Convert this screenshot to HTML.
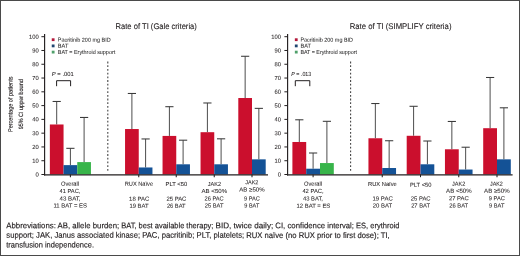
<!DOCTYPE html>
<html lang="en"><head><meta charset="utf-8"><title>Rate of TI</title>
<style>
html,body{margin:0;padding:0;background:#fff;}
body{width:520px;height:256px;overflow:hidden;position:relative;}
svg{position:absolute;left:0;top:0;display:block;will-change:transform;}
text{font-family:"Liberation Sans",Arial,sans-serif;fill:#231f20;stroke:#231f20;stroke-width:0.06px;}
</style></head><body>
<svg width="520" height="256" viewBox="0 0 520 256">
<rect x="0" y="0" width="520" height="256" fill="#fff"/>
<path d="M56.70 124.48V101.47" stroke="#4d4d4d" stroke-width="1" fill="none"/>
<path d="M52.60 101.47h8.2" stroke="#3a3a3a" stroke-width="1.05" fill="none"/>
<path d="M70.40 165.13V148.32" stroke="#4d4d4d" stroke-width="1" fill="none"/>
<path d="M66.30 148.32h8.2" stroke="#3a3a3a" stroke-width="1.05" fill="none"/>
<path d="M84.10 162.10V117.45" stroke="#4d4d4d" stroke-width="1" fill="none"/>
<path d="M80.00 117.45h8.2" stroke="#3a3a3a" stroke-width="1.05" fill="none"/>
<rect x="49.85" y="124.48" width="13.70" height="50.02" fill="#cb0f2d"/>
<rect x="63.55" y="165.13" width="13.70" height="9.37" fill="#145296"/>
<rect x="77.25" y="162.10" width="13.70" height="12.40" fill="#38b44a"/>
<path d="M131.90 129.03V93.47" stroke="#4d4d4d" stroke-width="1" fill="none"/>
<path d="M127.80 93.47h8.2" stroke="#3a3a3a" stroke-width="1.05" fill="none"/>
<path d="M145.60 167.47V138.95" stroke="#4d4d4d" stroke-width="1" fill="none"/>
<path d="M141.50 138.95h8.2" stroke="#3a3a3a" stroke-width="1.05" fill="none"/>
<rect x="125.05" y="129.03" width="13.70" height="45.47" fill="#cb0f2d"/>
<rect x="138.75" y="167.47" width="13.70" height="7.03" fill="#145296"/>
<path d="M169.40 135.92V106.70" stroke="#4d4d4d" stroke-width="1" fill="none"/>
<path d="M165.30 106.70h8.2" stroke="#3a3a3a" stroke-width="1.05" fill="none"/>
<path d="M183.10 164.30V140.19" stroke="#4d4d4d" stroke-width="1" fill="none"/>
<path d="M179.00 140.19h8.2" stroke="#3a3a3a" stroke-width="1.05" fill="none"/>
<rect x="162.55" y="135.92" width="13.70" height="38.58" fill="#cb0f2d"/>
<rect x="176.25" y="164.30" width="13.70" height="10.20" fill="#145296"/>
<path d="M207.40 132.20V102.98" stroke="#4d4d4d" stroke-width="1" fill="none"/>
<path d="M203.30 102.98h8.2" stroke="#3a3a3a" stroke-width="1.05" fill="none"/>
<path d="M221.10 164.30V138.81" stroke="#4d4d4d" stroke-width="1" fill="none"/>
<path d="M217.00 138.81h8.2" stroke="#3a3a3a" stroke-width="1.05" fill="none"/>
<rect x="200.55" y="132.20" width="13.70" height="42.30" fill="#cb0f2d"/>
<rect x="214.25" y="164.30" width="13.70" height="10.20" fill="#145296"/>
<path d="M245.15 98.02V56.27" stroke="#4d4d4d" stroke-width="1" fill="none"/>
<path d="M241.05 56.27h8.2" stroke="#3a3a3a" stroke-width="1.05" fill="none"/>
<path d="M258.85 159.34V108.36" stroke="#4d4d4d" stroke-width="1" fill="none"/>
<path d="M254.75 108.36h8.2" stroke="#3a3a3a" stroke-width="1.05" fill="none"/>
<rect x="238.30" y="98.02" width="13.70" height="76.48" fill="#cb0f2d"/>
<rect x="252.00" y="159.34" width="13.70" height="15.16" fill="#145296"/>
<path d="M44.6 33.9V175.4" stroke="#231f20" stroke-width="1.15" fill="none"/>
<path d="M44.050000000000004 174.8H268" stroke="#231f20" stroke-width="1.2" fill="none"/>
<path d="M41.4 174.50H44.6" stroke="#231f20" stroke-width="1" fill="none"/>
<text transform="matrix(1 0.0007 0 1 0 -0.0260)" x="38.8" y="176.5" font-size="5.9" text-anchor="end" textLength="3.3" lengthAdjust="spacingAndGlyphs" >0</text>
<path d="M41.4 160.72H44.6" stroke="#231f20" stroke-width="1" fill="none"/>
<text transform="matrix(1 0.0007 0 1 0 -0.0249)" x="38.8" y="162.72" font-size="5.9" text-anchor="end" textLength="6.5" lengthAdjust="spacingAndGlyphs" >10</text>
<path d="M41.4 146.94H44.6" stroke="#231f20" stroke-width="1" fill="none"/>
<text transform="matrix(1 0.0007 0 1 0 -0.0249)" x="38.8" y="148.94" font-size="5.9" text-anchor="end" textLength="6.5" lengthAdjust="spacingAndGlyphs" >20</text>
<path d="M41.4 133.16H44.6" stroke="#231f20" stroke-width="1" fill="none"/>
<text transform="matrix(1 0.0007 0 1 0 -0.0249)" x="38.8" y="135.16" font-size="5.9" text-anchor="end" textLength="6.5" lengthAdjust="spacingAndGlyphs" >30</text>
<path d="M41.4 119.38H44.6" stroke="#231f20" stroke-width="1" fill="none"/>
<text transform="matrix(1 0.0007 0 1 0 -0.0249)" x="38.8" y="121.38" font-size="5.9" text-anchor="end" textLength="6.5" lengthAdjust="spacingAndGlyphs" >40</text>
<path d="M41.4 105.60H44.6" stroke="#231f20" stroke-width="1" fill="none"/>
<text transform="matrix(1 0.0007 0 1 0 -0.0249)" x="38.8" y="107.6" font-size="5.9" text-anchor="end" textLength="6.5" lengthAdjust="spacingAndGlyphs" >50</text>
<path d="M41.4 91.82H44.6" stroke="#231f20" stroke-width="1" fill="none"/>
<text transform="matrix(1 0.0007 0 1 0 -0.0249)" x="38.8" y="93.82" font-size="5.9" text-anchor="end" textLength="6.5" lengthAdjust="spacingAndGlyphs" >60</text>
<path d="M41.4 78.04H44.6" stroke="#231f20" stroke-width="1" fill="none"/>
<text transform="matrix(1 0.0007 0 1 0 -0.0249)" x="38.8" y="80.04" font-size="5.9" text-anchor="end" textLength="6.5" lengthAdjust="spacingAndGlyphs" >70</text>
<path d="M41.4 64.26H44.6" stroke="#231f20" stroke-width="1" fill="none"/>
<text transform="matrix(1 0.0007 0 1 0 -0.0249)" x="38.8" y="66.26" font-size="5.9" text-anchor="end" textLength="6.5" lengthAdjust="spacingAndGlyphs" >80</text>
<path d="M41.4 50.48H44.6" stroke="#231f20" stroke-width="1" fill="none"/>
<text transform="matrix(1 0.0007 0 1 0 -0.0249)" x="38.8" y="52.48" font-size="5.9" text-anchor="end" textLength="6.5" lengthAdjust="spacingAndGlyphs" >90</text>
<path d="M41.4 36.70H44.6" stroke="#231f20" stroke-width="1" fill="none"/>
<text transform="matrix(1 0.0007 0 1 0 -0.0237)" x="38.8" y="38.7" font-size="5.9" text-anchor="end" textLength="9.8" lengthAdjust="spacingAndGlyphs" >100</text>
<path d="M70.40 174.5V177.2" stroke="#231f20" stroke-width="1.05" fill="none"/>
<path d="M138.75 174.5V177.2" stroke="#231f20" stroke-width="1.05" fill="none"/>
<path d="M176.25 174.5V177.2" stroke="#231f20" stroke-width="1.05" fill="none"/>
<path d="M214.25 174.5V177.2" stroke="#231f20" stroke-width="1.05" fill="none"/>
<path d="M252.00 174.5V177.2" stroke="#231f20" stroke-width="1.05" fill="none"/>
<path d="M107.8 61.6V172.6" stroke="#444" stroke-width="1.1" stroke-dasharray="1.8 1.9" fill="none"/>
<rect x="51.75" y="38.30" width="2.8" height="2.8" fill="#b3173a"/>
<text transform="matrix(1 0.0007 0 1 0 -0.0590)" x="57.8" y="41.65" font-size="5.7" text-anchor="start" textLength="52.9" lengthAdjust="spacingAndGlyphs" style="fill:#2b2b2b;stroke-width:0.04px">Pacritinib 200 mg BID</text>
<rect x="51.75" y="44.50" width="2.8" height="2.8" fill="#1f4570"/>
<text transform="matrix(1 0.0007 0 1 0 -0.0442)" x="57.8" y="47.85" font-size="5.7" text-anchor="start" textLength="10.6" lengthAdjust="spacingAndGlyphs" style="fill:#2b2b2b;stroke-width:0.04px">BAT</text>
<rect x="51.75" y="50.70" width="2.8" height="2.8" fill="#4fa06a"/>
<text transform="matrix(1 0.0007 0 1 0 -0.0605)" x="57.8" y="54.05" font-size="5.7" text-anchor="start" textLength="57.4" lengthAdjust="spacingAndGlyphs" style="fill:#2b2b2b;stroke-width:0.04px">BAT = Erythroid support</text>
<text transform="matrix(1 0.0007 0 1 0 -0.0440)" x="62.8" y="76.1" font-size="5.9" text-anchor="middle" textLength="21.9" lengthAdjust="spacingAndGlyphs"><tspan font-style="italic">P</tspan> = .001</text>
<path d="M56.6 86.2V80.7H70.6V86.2" stroke="#231f20" stroke-width="1" fill="none"/>
<text transform="matrix(1 0.0007 0 1 0 -0.1093)" x="156.2" y="29.0" font-size="8.2" text-anchor="middle" textLength="81.3" lengthAdjust="spacingAndGlyphs" style="stroke-width:0.1px">Rate of TI (Gale criteria)</text>
<text transform="matrix(1 0.0007 0 1 0 -0.0490)" x="70.05" y="185.75" font-size="5.9" text-anchor="middle" textLength="18.1" lengthAdjust="spacingAndGlyphs" >Overall</text>
<text transform="matrix(1 0.0007 0 1 0 -0.0490)" x="69.95" y="193.1" font-size="5.9" text-anchor="middle" textLength="20.9" lengthAdjust="spacingAndGlyphs" >41 PAC,</text>
<text transform="matrix(1 0.0007 0 1 0 -0.0490)" x="70.05" y="200.4" font-size="5.9" text-anchor="middle" textLength="20.9" lengthAdjust="spacingAndGlyphs" >43 BAT,</text>
<text transform="matrix(1 0.0007 0 1 0 -0.0492)" x="70.25" y="207.6" font-size="5.9" text-anchor="middle" textLength="33.5" lengthAdjust="spacingAndGlyphs" >11 BAT = ES</text>
<text transform="matrix(1 0.0007 0 1 0 -0.0972)" x="138.9" y="185.7" font-size="5.9" text-anchor="middle" textLength="28.4" lengthAdjust="spacingAndGlyphs" >RUX Naïve</text>
<text transform="matrix(1 0.0007 0 1 0 -0.0974)" x="139.15" y="200.7" font-size="5.9" text-anchor="middle" textLength="20.1" lengthAdjust="spacingAndGlyphs" >18 PAC</text>
<text transform="matrix(1 0.0007 0 1 0 -0.0973)" x="139.0" y="207.7" font-size="5.9" text-anchor="middle" textLength="19.2" lengthAdjust="spacingAndGlyphs" >19 BAT</text>
<text transform="matrix(1 0.0007 0 1 0 -0.1235)" x="176.4" y="186.1" font-size="5.9" text-anchor="middle" textLength="21.6" lengthAdjust="spacingAndGlyphs" >PLT &lt;50</text>
<text transform="matrix(1 0.0007 0 1 0 -0.1235)" x="176.4" y="200.7" font-size="5.9" text-anchor="middle" textLength="20.0" lengthAdjust="spacingAndGlyphs" >25 PAC</text>
<text transform="matrix(1 0.0007 0 1 0 -0.1234)" x="176.25" y="207.7" font-size="5.9" text-anchor="middle" textLength="18.7" lengthAdjust="spacingAndGlyphs" >26 BAT</text>
<text transform="matrix(1 0.0007 0 1 0 -0.1501)" x="214.4" y="185.9" font-size="5.9" text-anchor="middle" textLength="13.3" lengthAdjust="spacingAndGlyphs" >JAK2</text>
<text transform="matrix(1 0.0007 0 1 0 -0.1500)" x="214.3" y="193.1" font-size="5.9" text-anchor="middle" textLength="25.6" lengthAdjust="spacingAndGlyphs" >AB &lt;50%</text>
<text transform="matrix(1 0.0007 0 1 0 -0.1499)" x="214.1" y="200.4" font-size="5.9" text-anchor="middle" textLength="19.2" lengthAdjust="spacingAndGlyphs" >26 PAC</text>
<text transform="matrix(1 0.0007 0 1 0 -0.1499)" x="214.1" y="207.6" font-size="5.9" text-anchor="middle" textLength="18.7" lengthAdjust="spacingAndGlyphs" >25 BAT</text>
<text transform="matrix(1 0.0007 0 1 0 -0.1763)" x="251.8" y="184.3" font-size="5.9" text-anchor="middle" textLength="13.2" lengthAdjust="spacingAndGlyphs" >JAK2</text>
<text transform="matrix(1 0.0007 0 1 0 -0.1764)" x="251.95" y="191.5" font-size="5.9" text-anchor="middle" textLength="25.3" lengthAdjust="spacingAndGlyphs" >AB ≥50%</text>
<text transform="matrix(1 0.0007 0 1 0 -0.1764)" x="251.95" y="200.4" font-size="5.9" text-anchor="middle" textLength="15.9" lengthAdjust="spacingAndGlyphs" >9 PAC</text>
<text transform="matrix(1 0.0007 0 1 0 -0.1763)" x="251.8" y="207.6" font-size="5.9" text-anchor="middle" textLength="15.0" lengthAdjust="spacingAndGlyphs" >9 BAT</text>
<path d="M299.30 141.98V119.79" stroke="#4d4d4d" stroke-width="1" fill="none"/>
<path d="M295.20 119.79h8.2" stroke="#3a3a3a" stroke-width="1.05" fill="none"/>
<path d="M313.10 168.71V153.00" stroke="#4d4d4d" stroke-width="1" fill="none"/>
<path d="M309.00 153.00h8.2" stroke="#3a3a3a" stroke-width="1.05" fill="none"/>
<path d="M326.90 163.06V121.31" stroke="#4d4d4d" stroke-width="1" fill="none"/>
<path d="M322.80 121.31h8.2" stroke="#3a3a3a" stroke-width="1.05" fill="none"/>
<rect x="292.40" y="141.98" width="13.80" height="32.52" fill="#cb0f2d"/>
<rect x="306.20" y="168.71" width="13.80" height="5.79" fill="#145296"/>
<rect x="320.00" y="163.06" width="13.80" height="11.44" fill="#38b44a"/>
<path d="M375.35 138.26V103.53" stroke="#4d4d4d" stroke-width="1" fill="none"/>
<path d="M371.25 103.53h8.2" stroke="#3a3a3a" stroke-width="1.05" fill="none"/>
<path d="M389.15 168.02V140.74" stroke="#4d4d4d" stroke-width="1" fill="none"/>
<path d="M385.05 140.74h8.2" stroke="#3a3a3a" stroke-width="1.05" fill="none"/>
<rect x="368.45" y="138.26" width="13.80" height="36.24" fill="#cb0f2d"/>
<rect x="382.25" y="168.02" width="13.80" height="6.48" fill="#145296"/>
<path d="M413.60 135.78V106.29" stroke="#4d4d4d" stroke-width="1" fill="none"/>
<path d="M409.50 106.29h8.2" stroke="#3a3a3a" stroke-width="1.05" fill="none"/>
<path d="M427.40 164.30V141.01" stroke="#4d4d4d" stroke-width="1" fill="none"/>
<path d="M423.30 141.01h8.2" stroke="#3a3a3a" stroke-width="1.05" fill="none"/>
<rect x="406.70" y="135.78" width="13.80" height="38.72" fill="#cb0f2d"/>
<rect x="420.50" y="164.30" width="13.80" height="10.20" fill="#145296"/>
<path d="M451.85 149.28V121.45" stroke="#4d4d4d" stroke-width="1" fill="none"/>
<path d="M447.75 121.45h8.2" stroke="#3a3a3a" stroke-width="1.05" fill="none"/>
<path d="M465.65 169.54V147.22" stroke="#4d4d4d" stroke-width="1" fill="none"/>
<path d="M461.55 147.22h8.2" stroke="#3a3a3a" stroke-width="1.05" fill="none"/>
<rect x="444.95" y="149.28" width="13.80" height="25.22" fill="#cb0f2d"/>
<rect x="458.75" y="169.54" width="13.80" height="4.96" fill="#145296"/>
<path d="M490.10 128.20V77.49" stroke="#4d4d4d" stroke-width="1" fill="none"/>
<path d="M486.00 77.49h8.2" stroke="#3a3a3a" stroke-width="1.05" fill="none"/>
<path d="M503.90 159.34V107.80" stroke="#4d4d4d" stroke-width="1" fill="none"/>
<path d="M499.80 107.80h8.2" stroke="#3a3a3a" stroke-width="1.05" fill="none"/>
<rect x="483.20" y="128.20" width="13.80" height="46.30" fill="#cb0f2d"/>
<rect x="497.00" y="159.34" width="13.80" height="15.16" fill="#145296"/>
<path d="M287.6 33.9V175.4" stroke="#231f20" stroke-width="1.15" fill="none"/>
<path d="M287.05 174.8H512.6" stroke="#231f20" stroke-width="1.2" fill="none"/>
<path d="M284.40000000000003 174.50H287.6" stroke="#231f20" stroke-width="1" fill="none"/>
<text transform="matrix(1 0.0007 0 1 0 -0.1955)" x="281.0" y="176.5" font-size="5.9" text-anchor="end" textLength="3.3" lengthAdjust="spacingAndGlyphs" >0</text>
<path d="M284.40000000000003 160.72H287.6" stroke="#231f20" stroke-width="1" fill="none"/>
<text transform="matrix(1 0.0007 0 1 0 -0.1944)" x="281.0" y="162.72" font-size="5.9" text-anchor="end" textLength="6.5" lengthAdjust="spacingAndGlyphs" >10</text>
<path d="M284.40000000000003 146.94H287.6" stroke="#231f20" stroke-width="1" fill="none"/>
<text transform="matrix(1 0.0007 0 1 0 -0.1944)" x="281.0" y="148.94" font-size="5.9" text-anchor="end" textLength="6.5" lengthAdjust="spacingAndGlyphs" >20</text>
<path d="M284.40000000000003 133.16H287.6" stroke="#231f20" stroke-width="1" fill="none"/>
<text transform="matrix(1 0.0007 0 1 0 -0.1944)" x="281.0" y="135.16" font-size="5.9" text-anchor="end" textLength="6.5" lengthAdjust="spacingAndGlyphs" >30</text>
<path d="M284.40000000000003 119.38H287.6" stroke="#231f20" stroke-width="1" fill="none"/>
<text transform="matrix(1 0.0007 0 1 0 -0.1944)" x="281.0" y="121.38" font-size="5.9" text-anchor="end" textLength="6.5" lengthAdjust="spacingAndGlyphs" >40</text>
<path d="M284.40000000000003 105.60H287.6" stroke="#231f20" stroke-width="1" fill="none"/>
<text transform="matrix(1 0.0007 0 1 0 -0.1944)" x="281.0" y="107.6" font-size="5.9" text-anchor="end" textLength="6.5" lengthAdjust="spacingAndGlyphs" >50</text>
<path d="M284.40000000000003 91.82H287.6" stroke="#231f20" stroke-width="1" fill="none"/>
<text transform="matrix(1 0.0007 0 1 0 -0.1944)" x="281.0" y="93.82" font-size="5.9" text-anchor="end" textLength="6.5" lengthAdjust="spacingAndGlyphs" >60</text>
<path d="M284.40000000000003 78.04H287.6" stroke="#231f20" stroke-width="1" fill="none"/>
<text transform="matrix(1 0.0007 0 1 0 -0.1944)" x="281.0" y="80.04" font-size="5.9" text-anchor="end" textLength="6.5" lengthAdjust="spacingAndGlyphs" >70</text>
<path d="M284.40000000000003 64.26H287.6" stroke="#231f20" stroke-width="1" fill="none"/>
<text transform="matrix(1 0.0007 0 1 0 -0.1944)" x="281.0" y="66.26" font-size="5.9" text-anchor="end" textLength="6.5" lengthAdjust="spacingAndGlyphs" >80</text>
<path d="M284.40000000000003 50.48H287.6" stroke="#231f20" stroke-width="1" fill="none"/>
<text transform="matrix(1 0.0007 0 1 0 -0.1944)" x="281.0" y="52.48" font-size="5.9" text-anchor="end" textLength="6.5" lengthAdjust="spacingAndGlyphs" >90</text>
<path d="M284.40000000000003 36.70H287.6" stroke="#231f20" stroke-width="1" fill="none"/>
<text transform="matrix(1 0.0007 0 1 0 -0.1933)" x="281.0" y="38.7" font-size="5.9" text-anchor="end" textLength="9.8" lengthAdjust="spacingAndGlyphs" >100</text>
<path d="M313.10 174.5V177.2" stroke="#231f20" stroke-width="1.05" fill="none"/>
<path d="M382.25 174.5V177.2" stroke="#231f20" stroke-width="1.05" fill="none"/>
<path d="M420.50 174.5V177.2" stroke="#231f20" stroke-width="1.05" fill="none"/>
<path d="M458.75 174.5V177.2" stroke="#231f20" stroke-width="1.05" fill="none"/>
<path d="M497.00 174.5V177.2" stroke="#231f20" stroke-width="1.05" fill="none"/>
<path d="M350.6 61.6V172.6" stroke="#444" stroke-width="1.1" stroke-dasharray="1.8 1.9" fill="none"/>
<rect x="294.85" y="38.30" width="2.8" height="2.8" fill="#b3173a"/>
<text transform="matrix(1 0.0007 0 1 0 -0.2287)" x="300.4" y="41.65" font-size="5.7" text-anchor="start" textLength="52.6" lengthAdjust="spacingAndGlyphs" style="fill:#2b2b2b;stroke-width:0.04px">Pacritinib 200 mg BID</text>
<rect x="294.85" y="44.50" width="2.8" height="2.8" fill="#1f4570"/>
<text transform="matrix(1 0.0007 0 1 0 -0.2140)" x="300.4" y="47.85" font-size="5.7" text-anchor="start" textLength="10.5" lengthAdjust="spacingAndGlyphs" style="fill:#2b2b2b;stroke-width:0.04px">BAT</text>
<rect x="294.85" y="50.70" width="2.8" height="2.8" fill="#4fa06a"/>
<text transform="matrix(1 0.0007 0 1 0 -0.2301)" x="300.4" y="54.05" font-size="5.7" text-anchor="start" textLength="56.6" lengthAdjust="spacingAndGlyphs" style="fill:#2b2b2b;stroke-width:0.04px">BAT = Erythroid support</text>
<text transform="matrix(1 0.0007 0 1 0 -0.2109)" x="301.3" y="76.1" font-size="5.9" text-anchor="middle" textLength="20.0" lengthAdjust="spacingAndGlyphs"><tspan font-style="italic">P</tspan> = .013</text>
<path d="M295.3 86.2V80.7H309.8V86.2" stroke="#231f20" stroke-width="1" fill="none"/>
<text transform="matrix(1 0.0007 0 1 0 -0.2804)" x="400.6" y="29.0" font-size="8.2" text-anchor="middle" textLength="101.8" lengthAdjust="spacingAndGlyphs" style="stroke-width:0.1px">Rate of TI (SIMPLIFY criteria)</text>
<text transform="matrix(1 0.0007 0 1 0 -0.2191)" x="313" y="185.75" font-size="5.9" text-anchor="middle" textLength="18.0" lengthAdjust="spacingAndGlyphs" >Overall</text>
<text transform="matrix(1 0.0007 0 1 0 -0.2191)" x="313" y="193.1" font-size="5.9" text-anchor="middle" textLength="21.2" lengthAdjust="spacingAndGlyphs" >42 PAC,</text>
<text transform="matrix(1 0.0007 0 1 0 -0.2191)" x="313" y="200.4" font-size="5.9" text-anchor="middle" textLength="20.0" lengthAdjust="spacingAndGlyphs" >43 BAT,</text>
<text transform="matrix(1 0.0007 0 1 0 -0.2194)" x="313.4" y="207.8" font-size="5.9" text-anchor="middle" textLength="33.75" lengthAdjust="spacingAndGlyphs" >12 BAT = ES</text>
<text transform="matrix(1 0.0007 0 1 0 -0.2677)" x="382.4" y="185.9" font-size="5.9" text-anchor="middle" textLength="28.6" lengthAdjust="spacingAndGlyphs" >RUX Naïve</text>
<text transform="matrix(1 0.0007 0 1 0 -0.2679)" x="382.65" y="200.6" font-size="5.9" text-anchor="middle" textLength="20.3" lengthAdjust="spacingAndGlyphs" >19 PAC</text>
<text transform="matrix(1 0.0007 0 1 0 -0.2677)" x="382.5" y="207.6" font-size="5.9" text-anchor="middle" textLength="19.4" lengthAdjust="spacingAndGlyphs" >20 BAT</text>
<text transform="matrix(1 0.0007 0 1 0 -0.2945)" x="420.7" y="186.7" font-size="5.9" text-anchor="middle" textLength="21.4" lengthAdjust="spacingAndGlyphs" >PLT &lt;50</text>
<text transform="matrix(1 0.0007 0 1 0 -0.2945)" x="420.7" y="200.6" font-size="5.9" text-anchor="middle" textLength="19.8" lengthAdjust="spacingAndGlyphs" >25 PAC</text>
<text transform="matrix(1 0.0007 0 1 0 -0.2944)" x="420.6" y="207.6" font-size="5.9" text-anchor="middle" textLength="18.9" lengthAdjust="spacingAndGlyphs" >27 BAT</text>
<text transform="matrix(1 0.0007 0 1 0 -0.3211)" x="458.7" y="185.7" font-size="5.9" text-anchor="middle" textLength="13.3" lengthAdjust="spacingAndGlyphs" >JAK2</text>
<text transform="matrix(1 0.0007 0 1 0 -0.3212)" x="458.85" y="192.75" font-size="5.9" text-anchor="middle" textLength="25.5" lengthAdjust="spacingAndGlyphs" >AB &lt;50%</text>
<text transform="matrix(1 0.0007 0 1 0 -0.3212)" x="458.85" y="200.3" font-size="5.9" text-anchor="middle" textLength="19.9" lengthAdjust="spacingAndGlyphs" >27 PAC</text>
<text transform="matrix(1 0.0007 0 1 0 -0.3211)" x="458.7" y="207.6" font-size="5.9" text-anchor="middle" textLength="19.0" lengthAdjust="spacingAndGlyphs" >26 BAT</text>
<text transform="matrix(1 0.0007 0 1 0 -0.3475)" x="496.4" y="185.7" font-size="5.9" text-anchor="middle" textLength="12.8" lengthAdjust="spacingAndGlyphs" >JAK2</text>
<text transform="matrix(1 0.0007 0 1 0 -0.3478)" x="496.85" y="192.75" font-size="5.9" text-anchor="middle" textLength="25.5" lengthAdjust="spacingAndGlyphs" >AB ≥50%</text>
<text transform="matrix(1 0.0007 0 1 0 -0.3478)" x="496.85" y="200.3" font-size="5.9" text-anchor="middle" textLength="16.1" lengthAdjust="spacingAndGlyphs" >9 PAC</text>
<text transform="matrix(1 0.0007 0 1 0 -0.3477)" x="496.7" y="207.6" font-size="5.9" text-anchor="middle" textLength="15.4" lengthAdjust="spacingAndGlyphs" >9 BAT</text>
<text transform="translate(12.6 104.3) rotate(-90) matrix(1 0.0007 0 1 0 0)" font-size="6.2" style="stroke-width:0.14px" text-anchor="middle" textLength="55.5" lengthAdjust="spacingAndGlyphs">Percentage of patients</text>
<text transform="translate(22.9 104.3) rotate(-90) matrix(1 0.0007 0 1 0 0)" font-size="6.2" style="stroke-width:0.14px" text-anchor="middle" textLength="50" lengthAdjust="spacingAndGlyphs">95% CI upper bound</text>
<text transform="matrix(1 0.0007 0 1 0 -0.0439)" x="6.3" y="228.3" font-size="8.1" text-anchor="start" textLength="112.9" lengthAdjust="spacingAndGlyphs" style="stroke-width:0.16px">Abbreviations: AB, allele burden;</text>
<text transform="matrix(1 0.0007 0 1 0 -0.1171)" x="121.25" y="228.3" font-size="8.1" text-anchor="start" textLength="92.15" lengthAdjust="spacingAndGlyphs" style="stroke-width:0.16px">BAT, best available therapy;</text>
<text transform="matrix(1 0.0007 0 1 0 -0.1710)" x="215.5" y="228.3" font-size="8.1" text-anchor="start" textLength="57.7" lengthAdjust="spacingAndGlyphs" style="stroke-width:0.16px">BID, twice daily;</text>
<text transform="matrix(1 0.0007 0 1 0 -0.2102)" x="275.25" y="228.3" font-size="8.1" text-anchor="start" textLength="49.95" lengthAdjust="spacingAndGlyphs" style="stroke-width:0.16px">CI, confidence</text>
<text transform="matrix(1 0.0007 0 1 0 -0.2384)" x="327.25" y="228.3" font-size="8.1" text-anchor="start" textLength="26.65" lengthAdjust="spacingAndGlyphs" style="stroke-width:0.16px">interval;</text>
<text transform="matrix(1 0.0007 0 1 0 -0.2644)" x="356.0" y="228.3" font-size="8.1" text-anchor="start" textLength="43.5" lengthAdjust="spacingAndGlyphs" style="stroke-width:0.16px">ES, erythroid</text>
<text transform="matrix(1 0.0007 0 1 0 -0.1386)" x="6.3" y="237.85" font-size="8.1" text-anchor="start" textLength="383.4" lengthAdjust="spacingAndGlyphs" style="stroke-width:0.16px">support; JAK, Janus associated kinase; PAC, pacritinib; PLT, platelets; RUX naïve (no RUX prior to first dose); TI,</text>
<text transform="matrix(1 0.0007 0 1 0 -0.0351)" x="6.3" y="247.6" font-size="8.1" text-anchor="start" textLength="87.7" lengthAdjust="spacingAndGlyphs" style="stroke-width:0.16px">transfusion independence.</text>
<rect x="0.5" y="0.5" width="519" height="255" fill="none" stroke="#4a4a4a" stroke-width="1"/>
</svg>
</body></html>
